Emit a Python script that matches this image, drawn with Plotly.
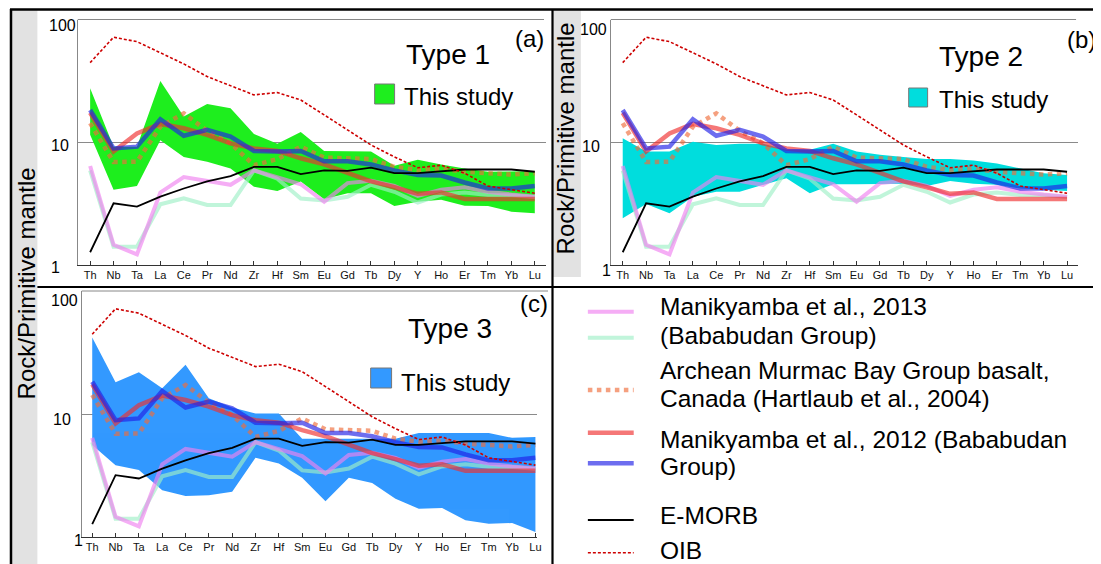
import math
import plotly.graph_objects as go

# page is shown with the default 8px body margin, so the canvas is offset
OFF = 8
W, H = 1101 - OFF, 564 - OFF

# ---------------- data (Rock / Primitive mantle) ----------------
categories = ["Th", "Nb", "Ta", "La", "Ce", "Pr", "Nd", "Zr", "Hf", "Sm",
              "Eu", "Gd", "Tb", "Dy", "Y", "Ho", "Er", "Tm", "Yb", "Lu"]

oib = [44.5, 71.7, 66, 53.7, 43.5, 34.3, 28.8, 24.3, 25.4, 22.1,
       16.7, 12.6, 9.5, 7.6, 6.2, 6.5, 5.6, 4.4, 4.1, 3.84]
emorb = [1.27, 3.18, 2.99, 3.6, 4.2, 4.8, 5.3, 6.3, 6.3, 5.5,
         5.9, 5.85, 6.2, 5.6, 5.6, 5.8, 6.0, 6.0, 6.0, 5.75]
manik2013_pink = [6.4, 1.46, 1.22, 3.9, 5.2, 4.85, 4.5, 5.9, 5.2, 4.55,
                  3.28, 4.65, 4.85, 4.4, 3.65, 4.1, 4.3, 3.95, 3.75, 3.6]
manik2013_mint = [5.9, 1.41, 1.41, 3.12, 3.5, 3.08, 3.08, 5.9, 5.05, 3.48,
                  3.35, 3.6, 4.5, 3.95, 3.23, 3.75, 3.9, 3.72, 3.7, 3.58]
murmac = [14.3, 6.9, 6.95, 13.4, 17.2, 12.4, 9.8, 6.5, 7.3, 9.2,
          7.5, 7.4, 7.3, 6.3, 5.95, 6.1, 5.75, 5.6, 5.45, 5.6]
manik2012_red = [17.4, 8.4, 11.8, 14.1, 13.0, 11.5, 9.8, 8.9, 8.5, 7.4,
                 6.6, 5.65, 4.8, 4.3, 3.8, 3.9, 3.45, 3.45, 3.45, 3.45]
manik2012_blue = [18.3, 8.9, 9.2, 15.4, 11.3, 12.6, 11.1, 8.5, 8.4, 8.5,
                  7.0, 7.0, 6.6, 5.9, 5.4, 5.35, 4.7, 4.2, 4.2, 4.4]

type1_hi = [27.5, 9.2, 9.2, 31.6, 16.2, 20.5, 18.9, 11.7, 9.7, 12.1,
            8.5, 8.4, 8.4, 6.45, 7.2, 6.6, 6.1, 5.75, 5.75, 5.8]
type1_lo = [11.5, 4.1, 4.4, 10.4, 7.6, 6.95, 6.1, 4.35, 4.0, 4.8,
            3.43, 3.84, 3.84, 3.03, 3.28, 3.4, 3.04, 3.03, 2.72, 2.64]
type2_hi = [10.8, 8.4, 8.4, 10.1, 9.5, 9.7, 9.7, 8.7, 8.7, 9.7,
            8.4, 7.9, 7.6, 7.3, 7.3, 7.1, 6.7, 6.1, 5.6, 5.4]
type2_lo = [2.4, 3.14, 2.64, 3.6, 3.96, 3.96, 4.5, 5.1, 3.84, 4.55,
            4.55, 4.55, 4.6, 4.4, 4.84, 4.6, 4.5, 4.2, 4.1, 4.0]
type3_hi = [41.9, 18.1, 21.9, 16.2, 25.1, 13.4, 11.3, 10.1, 10.1, 6.3,
            6.3, 6.3, 6.3, 6.3, 7.0, 7.0, 7.0, 7.0, 6.4, 6.5]
type3_lo = [5.6, 3.84, 3.5, 2.4, 2.15, 2.19, 2.33, 4.4, 3.96, 3.03,
            1.95, 3.03, 2.75, 2.05, 1.70, 1.72, 1.37, 1.28, 1.30, 1.1]

panel_titles = ["Type 1", "Type 2", "Type 3"]
panel_letters = ["(a)", "(b)", "(c)"]
band_label = "This study"
y_tick_values = [1, 10, 100]
y_title = "Rock/Primitive mantle"

legend_lines = [
    "Manikyamba et al., 2013", "(Bababudan Group)",
    "Archean Murmac Bay Group basalt,", "Canada (Hartlaub et al., 2004)",
    "Manikyamba et al., 2012 (Bababudan", "Group)",
    "E-MORB", "OIB",
]

# ---------------- styles ----------------
FONT = "Arial, Liberation Sans, sans-serif"
C_PINK = "rgb(240,130,240)"
C_MINT = "rgb(160,240,200)"
C_ORANGE = "rgb(240,110,60)"
C_RED = "rgb(240,47,47)"
C_BLUE = "rgb(32,32,232)"
C_OIB = "rgb(205,0,0)"
ALPHA = 0.65
band_colors = ["rgb(30,238,30)", "rgb(0,221,221)", "rgb(51,153,255)"]


def fx(px):
    """screen pixel x -> paper fraction"""
    return (px - OFF) / W


def fy(py):
    """screen pixel y -> paper fraction"""
    return 1 - (py - OFF) / H


# pixel geometry (screen) of the three panels: x-domain, y-domain(top,bottom), x-range
panels = [
    dict(xdom=(78, 548), ydom=(19.5, 265), xr=(-0.53, 19.48)),
    dict(xdom=(613, 1082), ydom=(19.5, 265), xr=(-0.51, 19.47)),
    dict(xdom=(82, 539), ydom=(291, 537), xr=(-0.45, 19.07)),
]
bands = [(type1_hi, type1_lo), (type2_hi, type2_lo), (type3_hi, type3_lo)]

fig = go.Figure()

for i, p in enumerate(panels):
    sx = "" if i == 0 else str(i + 1)
    xa, ya = "x" + sx, "y" + sx
    hi, lo = bands[i]
    fig.add_trace(go.Scatter(
        x=categories + categories[::-1], y=hi + lo[::-1], fill="toself",
        fillcolor=band_colors[i], line=dict(width=0), mode="lines",
        xaxis=xa, yaxis=ya, showlegend=False, hoverinfo="skip"))
    series = [
        (manik2013_mint, C_MINT, 4, "solid", ALPHA),
        (manik2013_pink, C_PINK, 4, "solid", ALPHA),
        (murmac, C_ORANGE, 4.5, "dot", ALPHA),
        (manik2012_red, C_RED, 4.5, "solid", ALPHA),
        (manik2012_blue, C_BLUE, 4.5, "solid", ALPHA),
        (emorb, "black", 1.8, "solid", 1.0),
        (oib, C_OIB, 1.6, "3px,2px", 1.0),
    ]
    for vals, col, w, dash, op in series:
        fig.add_trace(go.Scatter(
            x=categories, y=vals, mode="lines", opacity=op,
            line=dict(color=col, width=w, dash=dash),
            xaxis=xa, yaxis=ya, showlegend=False, hoverinfo="skip"))

    fig.layout["xaxis" + sx] = dict(
        domain=[fx(p["xdom"][0]), fx(p["xdom"][1])], anchor=ya,
        type="category", categoryorder="array", categoryarray=categories,
        range=list(p["xr"]), showgrid=False, zeroline=False,
        showline=True, linecolor="#333", linewidth=1.3,
        ticks="inside", ticklen=4, tickwidth=1, tickcolor="#333",
        tickfont=dict(family=FONT, size=11, color="#111"))
    fig.layout["yaxis" + sx] = dict(
        domain=[fy(p["ydom"][1]), fy(p["ydom"][0])], anchor=xa,
        type="log", range=[0, 2], tickvals=[10], showticklabels=False,
        showgrid=True, gridcolor="#8a8a8a", gridwidth=1, zeroline=False,
        showline=True, linecolor="#888", linewidth=1, ticks="")

shapes = []
annotations = []

# gray strips behind axis titles
shapes.append(dict(type="rect", xref="paper", yref="paper", x0=fx(12), x1=fx(37.5),
                   y0=fy(564), y1=fy(10), fillcolor="#e2e2e2", line=dict(width=0), layer="below"))
shapes.append(dict(type="rect", xref="paper", yref="paper", x0=fx(555), x1=fx(583),
                   y0=fy(277), y1=fy(10), fillcolor="#e2e2e2", line=dict(width=0), layer="below"))

# outer borders / dividers
for (x0, y0, x1, y1, w) in [(10, 9.5, 1101, 9.5, 2.5), (11, 9, 11, 564, 2.5),
                            (554.5, 9, 554.5, 564, 2.2), (37.5, 287, 1101, 287, 2.2)]:
    shapes.append(dict(type="line", xref="paper", yref="paper", x0=fx(x0), x1=fx(x1),
                       y0=fy(y0), y1=fy(y1), line=dict(color="black", width=w)))

# top frame lines of the plots
for (x0, x1, yy) in [(78, 546, 19.5), (613, 1080, 19.5), (82, 550, 291)]:
    shapes.append(dict(type="line", xref="paper", yref="paper", x0=fx(x0), x1=fx(x1),
                       y0=fy(yy), y1=fy(yy), line=dict(color="#888", width=1)))

# y tick labels (left aligned as in the original)
ytick_pos = [
    [(49, -2), (49, -3.4), (47, -6.5)],
    [(602, -5), (582, -4.7), (580, -10.5)],
    [(72, -3), (51, -5), (49, -9)],
]
for i in range(3):
    ya = "y" + ("" if i == 0 else str(i + 1))
    for v, (xl, ys) in zip(y_tick_values, ytick_pos[i]):
        annotations.append(dict(xref="paper", yref=ya, x=fx(xl), y=math.log10(v),
                                text=str(v), showarrow=False, xanchor="left", yanchor="middle",
                                yshift=ys, font=dict(family=FONT, size=16, color="black")))

# panel titles, letters, band legends
title_pos = [(450, 54), (985, 56), (452, 328)]
letter_pos = [(531, 38), (1085, 40), (536, 303)]
square_pos = [(376, 84, 396, 104), (912, 88, 931, 107), (372, 368, 393, 388)]
study_pos = [(403, 96), (940, 100), (400, 382)]
for i in range(3):
    annotations.append(dict(xref="paper", yref="paper", x=fx(title_pos[i][0]), y=fy(title_pos[i][1]),
                            text=panel_titles[i], showarrow=False, xanchor="center", yanchor="middle",
                            font=dict(family=FONT, size=28, color="black")))
    annotations.append(dict(xref="paper", yref="paper", x=fx(letter_pos[i][0]), y=fy(letter_pos[i][1]),
                            text=panel_letters[i], showarrow=False, xanchor="center", yanchor="middle",
                            font=dict(family=FONT, size=24, color="black")))
    x0, y0, x1, y1 = square_pos[i]
    shapes.append(dict(type="rect", xref="paper", yref="paper", x0=fx(x0), x1=fx(x1),
                       y0=fy(y1), y1=fy(y0), fillcolor=band_colors[i],
                       line=dict(color="#777", width=1)))
    annotations.append(dict(xref="paper", yref="paper", x=fx(study_pos[i][0]), y=fy(study_pos[i][1]),
                            text=band_label, showarrow=False, xanchor="left", yanchor="middle",
                            font=dict(family=FONT, size=24, color="black")))

# y axis titles
annotations.append(dict(xref="paper", yref="paper", x=fx(26.5), y=fy(283), text=y_title,
                        textangle=-90, showarrow=False, xanchor="center", yanchor="middle",
                        font=dict(family=FONT, size=24, color="black")))
annotations.append(dict(xref="paper", yref="paper", x=fx(567.5), y=fy(138), text=y_title,
                        textangle=-90, showarrow=False, xanchor="center", yanchor="middle",
                        font=dict(family=FONT, size=24, color="black")))

# legend panel (bottom right)
leg_samples = [
    (311.7, C_PINK, 4, "solid", ALPHA),
    (337.7, C_MINT, 4, "solid", ALPHA),
    (390, C_ORANGE, 4.5, "dot", ALPHA),
    (432.7, C_RED, 4.5, "solid", ALPHA),
    (463.3, C_BLUE, 4.5, "solid", ALPHA),
    (520, "black", 1.8, "solid", 1.0),
    (552.7, C_OIB, 1.6, "3px,2px", 1.0),
]
for yy, col, w, dash, op in leg_samples:
    shapes.append(dict(type="line", xref="paper", yref="paper", x0=fx(590), x1=fx(636),
                       y0=fy(yy), y1=fy(yy), opacity=op,
                       line=dict(color=col, width=w, dash=dash)))
leg_text_y = [306.7, 335, 370, 398.3, 439, 466.7, 515, 550.5]
for t, yy in zip(legend_lines, leg_text_y):
    annotations.append(dict(xref="paper", yref="paper", x=fx(660), y=fy(yy), text=t,
                            showarrow=False, xanchor="left", yanchor="middle",
                            font=dict(family=FONT, size=24.5, color="black")))

fig.update_layout(
    width=W, height=H, autosize=False,
    margin=dict(l=0, r=0, t=0, b=0),
    paper_bgcolor="white", plot_bgcolor="rgba(0,0,0,0)",
    shapes=shapes, annotations=annotations, showlegend=False,
)

fig.write_html("out.html")
